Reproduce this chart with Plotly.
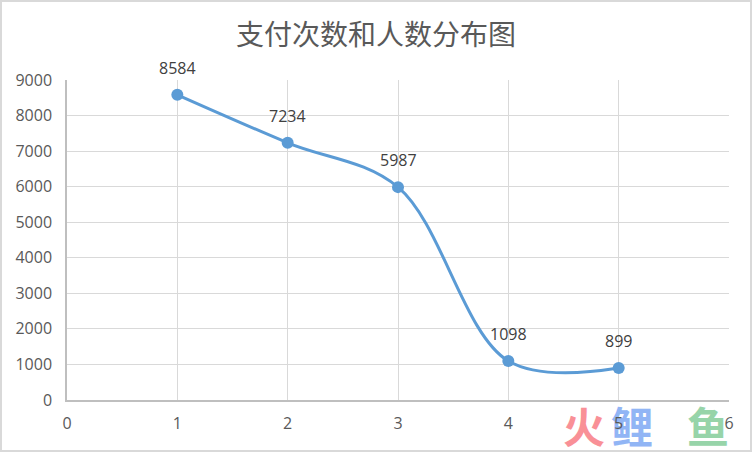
import plotly.graph_objects as go

x_vals = [1, 2, 3, 4, 5]
y_vals = [8584, 7234, 5987, 1098, 899]
labels = ["8584", "7234", "5987", "1098", "899"]
title = "支付次数和人数分布图"

W, H = 752, 452
L, R, T, B = 67, 729, 80, 400  # plot area in pixels

fig = go.Figure()

# watermark on subplot "xy" (drawn first, so the chart's tick labels sit on top)
wm_chars = ["火", "鲤", "鱼"]
wm_px = [584, 632, 708]
wm_colors = ["#F9858C", "#86AEF5", "#8CD0A0"]
fig.add_trace(go.Scatter(
    x=wm_px, y=[H - 432] * 3, xaxis="x", yaxis="y",
    mode="text", text=wm_chars, textposition="middle center",
    textfont=dict(family="Noto Sans CJK SC", size=42, color=wm_colors, weight="bold"),
    cliponaxis=False, hoverinfo="skip", opacity=0.9,
))

# main series on subplot "x2y2"
fig.add_trace(go.Scatter(
    x=x_vals, y=y_vals, xaxis="x2", yaxis="y2",
    mode="lines+markers",
    line=dict(color="#5B9BD5", width=3, shape="spline", smoothing=1.0),
    marker=dict(color="#5B9BD5", size=12),
    hoverinfo="skip",
))

for xv, yv, lb in zip(x_vals, y_vals, labels):
    fig.add_annotation(x=xv, y=yv, xref="x2", yref="y2", text=lb, showarrow=False, yshift=27,
                       font=dict(family="Open Sans, Liberation Sans", size=16, color="#404040"))

axis_font = dict(family="Open Sans, Liberation Sans", size=16, color="#595959")
hidden = dict(visible=False, fixedrange=True, automargin=False)
fig.update_layout(
    width=W, height=H,
    margin=dict(l=0, r=0, t=0, b=0, pad=0, autoexpand=False),
    paper_bgcolor="white", plot_bgcolor="white",
    showlegend=False,
    title=dict(text=title, x=0.5, xanchor="center", y=1 - 35 / H, yanchor="middle",
               font=dict(family="Noto Sans CJK SC", size=28, color="#595959")),
    xaxis=dict(domain=[0, 1], range=[0, W], **hidden),
    yaxis=dict(domain=[0, 1], range=[0, H], **hidden),
    xaxis2=dict(domain=[L / W, R / W], anchor="y2", range=[0, 6], dtick=1, tick0=0,
                showgrid=True, gridcolor="#D9D9D9", gridwidth=1, zeroline=False,
                showline=True, linecolor="#BFBFBF", linewidth=1.5, ticks="",
                tickfont=axis_font, ticklabelstandoff=8, automargin=False),
    yaxis2=dict(domain=[(H - B) / H, (H - T) / H], anchor="x2", range=[0, 9000], dtick=1000,
                showgrid=True, gridcolor="#D9D9D9", gridwidth=1, zeroline=False,
                showline=True, linecolor="#BFBFBF", linewidth=1.5, ticks="",
                tickfont=axis_font, ticklabelstandoff=10, automargin=False),
)

# outer chart border
fig.add_shape(type="rect", xref="paper", yref="paper",
              x0=1 / W, x1=1 - 1 / W, y0=1 / H, y1=1 - 1 / H,
              line=dict(color="#D9D9D9", width=2), fillcolor="rgba(0,0,0,0)", layer="below")

fig.write_html("out.html", config={"displayModeBar": False},
               post_script="document.body.style.margin='0';document.body.style.overflow='hidden';")
